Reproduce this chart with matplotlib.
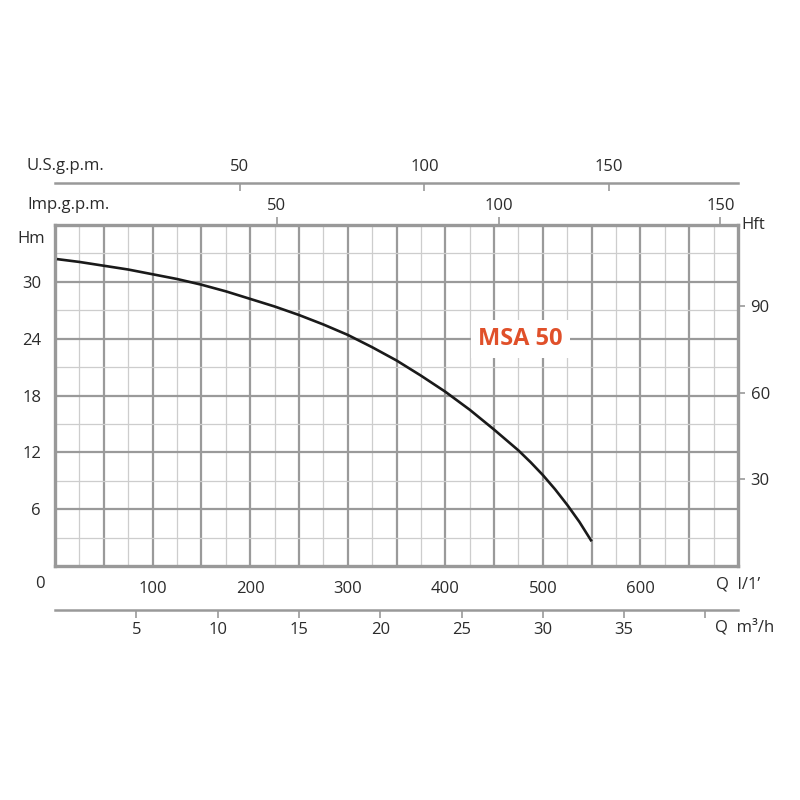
import matplotlib
matplotlib.use("Agg")
import matplotlib.pyplot as plt
import numpy as np

# ---- data ----
flow_lpm = [2, 25, 50, 75, 100, 125, 150, 175, 200, 225, 250, 275, 300,
            325, 350, 375, 400, 425, 450, 475, 487.5, 500, 512.5, 525,
            537.5, 550]
head_m = [32.4, 32.1, 31.7, 31.3, 30.8, 30.3, 29.7, 29.0, 28.2, 27.4, 26.5,
          25.5, 24.4, 23.1, 21.7, 20.1, 18.4, 16.5, 14.4, 12.2, 10.95, 9.6,
          8.1, 6.45, 4.65, 2.6]
q_ticks = [100, 200, 300, 400, 500, 600]
h_ticks = [6, 12, 18, 24, 30]
hft_ticks = [30, 60, 90]
m3h_ticks = [5, 10, 15, 20, 25, 30, 35, 40]
m3h_labels = ["5", "10", "15", "20", "25", "30", "35", ""]
usgpm_ticks = [50, 100, 150]
impgpm_ticks = [50, 100, 150]
title = "MSA 50"

plt.rcParams['font.family'] = ['Open Sans', 'DejaVu Sans']
TXT = '#2b2b2b'
FS = 12

fig = plt.figure(figsize=(8, 8), dpi=100)
L, R, B, T = 55/800, 738/800, 1-566/800, 1-225/800
ax = fig.add_axes([L, B, R-L, T-B])
ax.set_xlim(0, 700)
ax.set_ylim(0, 36)

major_c, minor_c = '#9a9a9a', '#cdcdcd'
for x in np.arange(25, 700, 25):
    major = (x % 50 == 0)
    ax.axvline(x, color=major_c if major else minor_c,
               lw=1.6 if major else 0.9, zorder=1)
for y in np.arange(3, 36, 3):
    major = (y % 6 == 0)
    ax.axhline(y, color=major_c if major else minor_c,
               lw=1.6 if major else 0.9, zorder=1)
for s in ax.spines.values():
    s.set_color('#999999')
    s.set_linewidth(2.4)
    s.set_zorder(3)

ax.plot(flow_lpm, head_m, color='#1a1a1a', lw=1.9, zorder=4,
        solid_capstyle='butt', solid_joinstyle='round')

ax.text(477, 24, title, color='#e0502a', fontsize=17, fontweight='bold',
        ha='center', va='center', zorder=5,
        bbox=dict(facecolor='white', edgecolor='none', pad=5))

# main x ticks (l/min)
ax.set_xticks(q_ticks)
ax.set_xticklabels([str(v) for v in q_ticks])
ax.tick_params(axis='x', length=0, pad=11, labelsize=FS, labelcolor=TXT)
ax.text(-15, -1.95, "0", ha='center', va='center', fontsize=FS, color=TXT,
        transform=ax.transData, clip_on=False)
ax.text(700, -1.95, "Q  l/1\u2019", ha='center', va='center', fontsize=FS,
        color=TXT, clip_on=False)

# main y ticks (m)
ax.set_yticks(h_ticks)
ax.set_yticklabels([str(v) for v in h_ticks])
ax.tick_params(axis='y', length=0, pad=10, labelsize=FS, labelcolor=TXT)
ax.text(-10/0.978, 34.5, "Hm", ha='right', va='center', fontsize=FS,
        color=TXT, clip_on=False)

# right axis: feet
sy = ax.secondary_yaxis('right', functions=(lambda m: m / 0.3048,
                                            lambda f: f * 0.3048))
sy.set_yticks(hft_ticks)
sy.tick_params(length=5, width=1.2, color='#999999', pad=4,
               labelsize=FS, labelcolor=TXT)
sy.spines['right'].set_visible(False)
ax.text(1.005, 1.0, "Hft", transform=ax.transAxes, ha='left', va='center',
        fontsize=FS, color=TXT)

# top axis: Imp gpm
ix = ax.secondary_xaxis('top', functions=(lambda q: q / 4.54609,
                                          lambda g: g * 4.54609))
ix.set_xticks(impgpm_ticks)
ix.tick_params(length=6, width=1.2, color='#999999', direction='out', pad=2,
               labelsize=FS, labelcolor=TXT)
ix.spines['top'].set_visible(False)
fig.text(27/800, 1-205/800, "Imp.g.p.m.", ha='left', va='center',
         fontsize=FS, color=TXT)

# top axis: US gpm
ux = ax.secondary_xaxis((566-183)/341, functions=(lambda q: q / 3.78541,
                                                  lambda g: g * 3.78541))
ux.set_xticks(usgpm_ticks)
ux.tick_params(length=6, width=1.2, color='#999999', direction='in', pad=6,
               labelsize=FS, labelcolor=TXT)
ux.spines['top'].set_color('#999999')
ux.spines['top'].set_linewidth(1.8)
fig.text(27/800, 1-166/800, "U.S.g.p.m.", ha='left', va='center',
         fontsize=FS, color=TXT)

# bottom axis: m3/h
mx = ax.secondary_xaxis((566-610)/341, functions=(lambda q: q * 0.06,
                                                  lambda m: m / 0.06))
mx.set_xticks(m3h_ticks)
mx.set_xticklabels(m3h_labels)
mx.tick_params(length=6, width=1.2, color='#999999', direction='out', pad=3,
               labelsize=FS, labelcolor=TXT)
mx.spines['bottom'].set_color('#999999')
mx.spines['bottom'].set_linewidth(1.8)
fig.text(745/800, 1-627/800, "Q  m\u00b3/h", ha='center', va='center',
         fontsize=FS, color=TXT)

fig.savefig("out.png", dpi=100, facecolor='white')
